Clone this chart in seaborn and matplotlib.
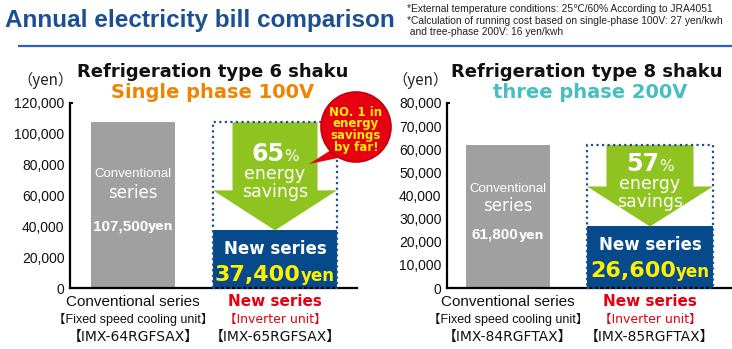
import matplotlib
matplotlib.use("Agg")
import matplotlib.pyplot as plt
import matplotlib.patches as mpatches
import pandas as pd
import seaborn as sns

# ---- data -------------------------------------------------------------
categories = ["Conventional series", "New series"]
unit_types = ["【Fixed speed cooling unit】", "【Inverter unit】"]

panel_titles = ["Refrigeration type 6 shaku", "Refrigeration type 8 shaku"]
panel_subtitles = ["Single phase 100V", "three phase 200V"]

costs_6shaku = [107500, 37400]
costs_8shaku = [61800, 26600]
savings_pct = [65, 57]

models_6shaku = ["【IMX-64RGFSAX】", "【IMX-65RGFSAX】"]
models_8shaku = ["【IMX-84RGFTAX】", "【IMX-85RGFTAX】"]

yticks_6shaku = [0, 20000, 40000, 60000, 80000, 100000, 120000]
yticks_8shaku = [0, 10000, 20000, 30000, 40000, 50000, 60000, 70000, 80000]

header = "Annual electricity bill comparison"
notes = [
    "*External temperature conditions: 25℃/60% According to JRA4051",
    "*Calculation of running cost based on single-phase 100V: 27 yen/kwh",
    " and tree-phase 200V: 16 yen/kwh",
]

# ---- style ------------------------------------------------------------
sns.set_theme(style="white")
NARROW = ["Liberation Sans Narrow", "Liberation Sans", "DejaVu Sans", "Noto Sans CJK JP"]
GOTHIC = ["DejaVu Sans", "Noto Sans CJK JP"]
CJK = ["Noto Sans CJK JP", "DejaVu Sans"]
plt.rcParams["font.family"] = NARROW

GRAY = "#a0a0a0"
NAVY = "#064a8c"
GREEN = "#8fc31f"
YELLOW = "#fff100"
RED = "#e60012"
HEAD_BLUE = "#1b4f93"
SUB_COLORS = ["#f08300", "#45bfc0"]

W, H = 732, 349
fig = plt.figure(figsize=(W / 100, H / 100), dpi=100)
fig.patch.set_facecolor("white")


def rect(x0, y0, x1, y1):
    """Axes rectangle from pixel edges measured from the top-left corner."""
    return [x0 / W, 1 - y1 / H, (x1 - x0) / W, (y1 - y0) / H]


# overlay in pixel units (y grows downward) for annotations
ov = fig.add_axes([0, 0, 1, 1], zorder=10)
ov.set_xlim(0, W)
ov.set_ylim(H, 0)
ov.axis("off")
ov.patch.set_alpha(0)

renderer = fig.canvas.get_renderer()


def to_px(ax, x, y):
    dx, dy = ax.transData.transform((x, y))
    return dx, H - dy


def pair_text(x, y, big, small, big_kw, small_kw):
    """Two runs of text sharing a baseline, centred together on x."""
    t1 = ov.text(0, y, big, ha="left", va="baseline", **big_kw)
    t2 = ov.text(0, y, small, ha="left", va="baseline", **small_kw)
    w1 = t1.get_window_extent(renderer).width
    w2 = t2.get_window_extent(renderer).width
    start = x - (w1 + w2) / 2
    t1.set_x(start)
    t2.set_x(start + w1)


panels = [
    dict(costs=costs_6shaku, ticks=yticks_6shaku, models=models_6shaku,
         box=(70, 103, 357, 288), centers=(133, 275), widths=(84, 124),
         title=panel_titles[0], subtitle=panel_subtitles[0], sub_color=SUB_COLORS[0],
         pct=savings_pct[0], title_x=213, sub_x=213, yen_x=45),
    dict(costs=costs_8shaku, ticks=yticks_8shaku, models=models_8shaku,
         box=(447, 103, 732, 288), centers=(508, 650), widths=(84, 126),
         title=panel_titles[1], subtitle=panel_subtitles[1], sub_color=SUB_COLORS[1],
         pct=savings_pct[1], title_x=587, sub_x=590, yen_x=420),
]

for p in panels:
    x0, y0, x1, y1 = p["box"]
    ax = fig.add_axes(rect(x0, y0, x1, y1))
    df = pd.DataFrame({"series": categories, "cost": p["costs"]})
    sns.barplot(data=df, x="series", y="cost", hue="series", order=categories,
                hue_order=categories, palette=[GRAY, NAVY], saturation=1,
                legend=False, width=0.6, ax=ax)

    # conventional and new bars have different widths
    step = p["centers"][1] - p["centers"][0]
    bar_w = [w / step for w in p["widths"]]
    for i, patch in enumerate(ax.patches[:2]):
        patch.set_x(i - bar_w[i] / 2)
        patch.set_width(bar_w[i])
        patch.set_edgecolor("none")

    ax.set_xlim(-(p["centers"][0] - x0) / step, (x1 - p["centers"][0]) / step)
    ymax = p["ticks"][-1]
    ax.set_ylim(0, ymax)
    ax.set_yticks(p["ticks"])
    ax.set_yticklabels([f"{t:,}" for t in p["ticks"]])
    ax.set_xticks([])
    ax.set_xlabel("")
    ax.set_ylabel("")
    ax.tick_params(axis="y", length=0, pad=4, labelsize=10, labelcolor="#111111")
    for s in ("top", "right"):
        ax.spines[s].set_visible(False)
    for s in ("left", "bottom"):
        ax.spines[s].set_color("black")
        ax.spines[s].set_linewidth(1.6)
    ax.patch.set_alpha(0)
    # small cap at the top of the value axis
    ax.plot([0, 0.012], [1, 1], transform=ax.transAxes, color="black",
            linewidth=1.4, clip_on=False, solid_capstyle="butt")

    old, new = p["costs"]
    hw = bar_w[1] / 2
    sw = hw - 19.5 / step
    yen_per_px = ymax / (y1 - y0)
    head = 40 * yen_per_px

    # savings arrow from the old cost down to the new cost
    arrow = mpatches.Polygon(
        [(1 - sw, old), (1 + sw, old), (1 + sw, new + head), (1 + hw, new + head),
         (1, new), (1 - hw, new + head), (1 - sw, new + head)],
        closed=True, facecolor=GREEN, edgecolor="none", zorder=3)
    ax.add_patch(arrow)
    # dotted outline of the old cost around the new bar
    ax.add_patch(mpatches.Rectangle((1 - hw, 0), 2 * hw, old, fill=False,
                                    edgecolor="#1d4f91", linestyle=(0, (1, 1.5)),
                                    linewidth=1.6, zorder=4, clip_on=False))

    # ---- texts ----
    cx0, top0 = to_px(ax, 0, old)
    _, base = to_px(ax, 0, 0)
    hgt = base - top0
    ov.text(cx0, base - 0.69 * hgt, "Conventional", color="white", ha="center",
            va="center", fontsize=9.5)
    ov.text(cx0, base - 0.575 * hgt, "series", color="white", ha="center",
            va="center", fontsize=12, family=GOTHIC)
    pair_text(cx0, base - 0.385 * hgt + 6, f"{old:,}", "yen",
              dict(color="white", fontsize=11, fontweight="bold"),
              dict(color="white", fontsize=9, fontweight="bold", family=GOTHIC))

    cx1, top1 = to_px(ax, 1, new)
    ov.text(cx1, top1 + 18.5, "New series", color="white", ha="center",
            va="center", fontsize=12, fontweight="bold", family=GOTHIC)
    pair_text(cx1, top1 + 51, f"{new:,}", "yen",
              dict(color=YELLOW, fontsize=16, fontweight="bold", family=GOTHIC),
              dict(color=YELLOW, fontsize=12, fontweight="bold", family=GOTHIC))

    mid = (top0 + top1) / 2
    pair_text(cx1, mid - 15, f"{p['pct']}", "%",
              dict(color="white", fontsize=17, fontweight="bold", family=GOTHIC),
              dict(color="white", fontsize=11, family=GOTHIC))
    ov.text(cx1, mid - 2, "energy", color="white", ha="center", va="center",
            fontsize=12.5, family=GOTHIC)
    ov.text(cx1, mid + 16, "savings", color="white", ha="center", va="center",
            fontsize=12.5, family=GOTHIC)

    # panel headings
    ov.text(p["title_x"], 72, p["title"], ha="center", va="center", fontsize=13,
            fontweight="bold", color="#111111", family=GOTHIC)
    ov.text(p["sub_x"], 92, p["subtitle"], ha="center", va="center", fontsize=14,
            fontweight="bold", color=p["sub_color"], family=GOTHIC)
    ov.text(p["yen_x"], 80, "（yen）", ha="center", va="center", fontsize=11,
            color="#222222", family=CJK)

    # category labels
    ov.text(cx0, 302, categories[0], ha="center", va="center", fontsize=11,
            color="#111111")
    ov.text(cx0, 319, unit_types[0], ha="center", va="center", fontsize=9,
            color="#111111")
    ov.text(cx0, 337, p["models"][0], ha="center", va="center", fontsize=10,
            color="#111111", family=GOTHIC)
    ov.text(cx1, 302, categories[1], ha="center", va="center", fontsize=11,
            fontweight="bold", color=RED, family=GOTHIC)
    ov.text(cx1, 319, unit_types[1], ha="center", va="center", fontsize=9,
            color=RED, family=GOTHIC)
    ov.text(cx1, 337, p["models"][1], ha="center", va="center", fontsize=10,
            color="#111111", family=GOTHIC)

# ---- header ----
ov.text(5, 21, header, ha="left", va="center", fontsize=17.5, fontweight="bold",
        color=HEAD_BLUE)
for i, line in enumerate(notes):
    ov.text(407, 9 + 11.5 * i, line, ha="left", va="center", fontsize=7.4,
            color="#222222")
ov.plot([18, W], [46, 46], color="#2a63b0", linewidth=1.6, solid_capstyle="butt")

# ---- "No. 1" speech balloon ----
ov.add_patch(mpatches.Polygon([(331, 150), (309, 164), (343, 157)], closed=True,
                              facecolor=RED, edgecolor="none", zorder=11))
ov.add_patch(mpatches.Circle((356, 127), 35, facecolor=RED, edgecolor="#c4000f",
                             linewidth=1.2, zorder=11))
for i, line in enumerate(["NO. 1 in", "energy", "savings", "by far!"]):
    ov.text(356, 112 + 11.7 * i, line, ha="center", va="center", fontsize=8.5,
            fontweight="bold", color=YELLOW, family=GOTHIC, zorder=12)

fig.savefig("out.png", dpi=100, facecolor="white")
